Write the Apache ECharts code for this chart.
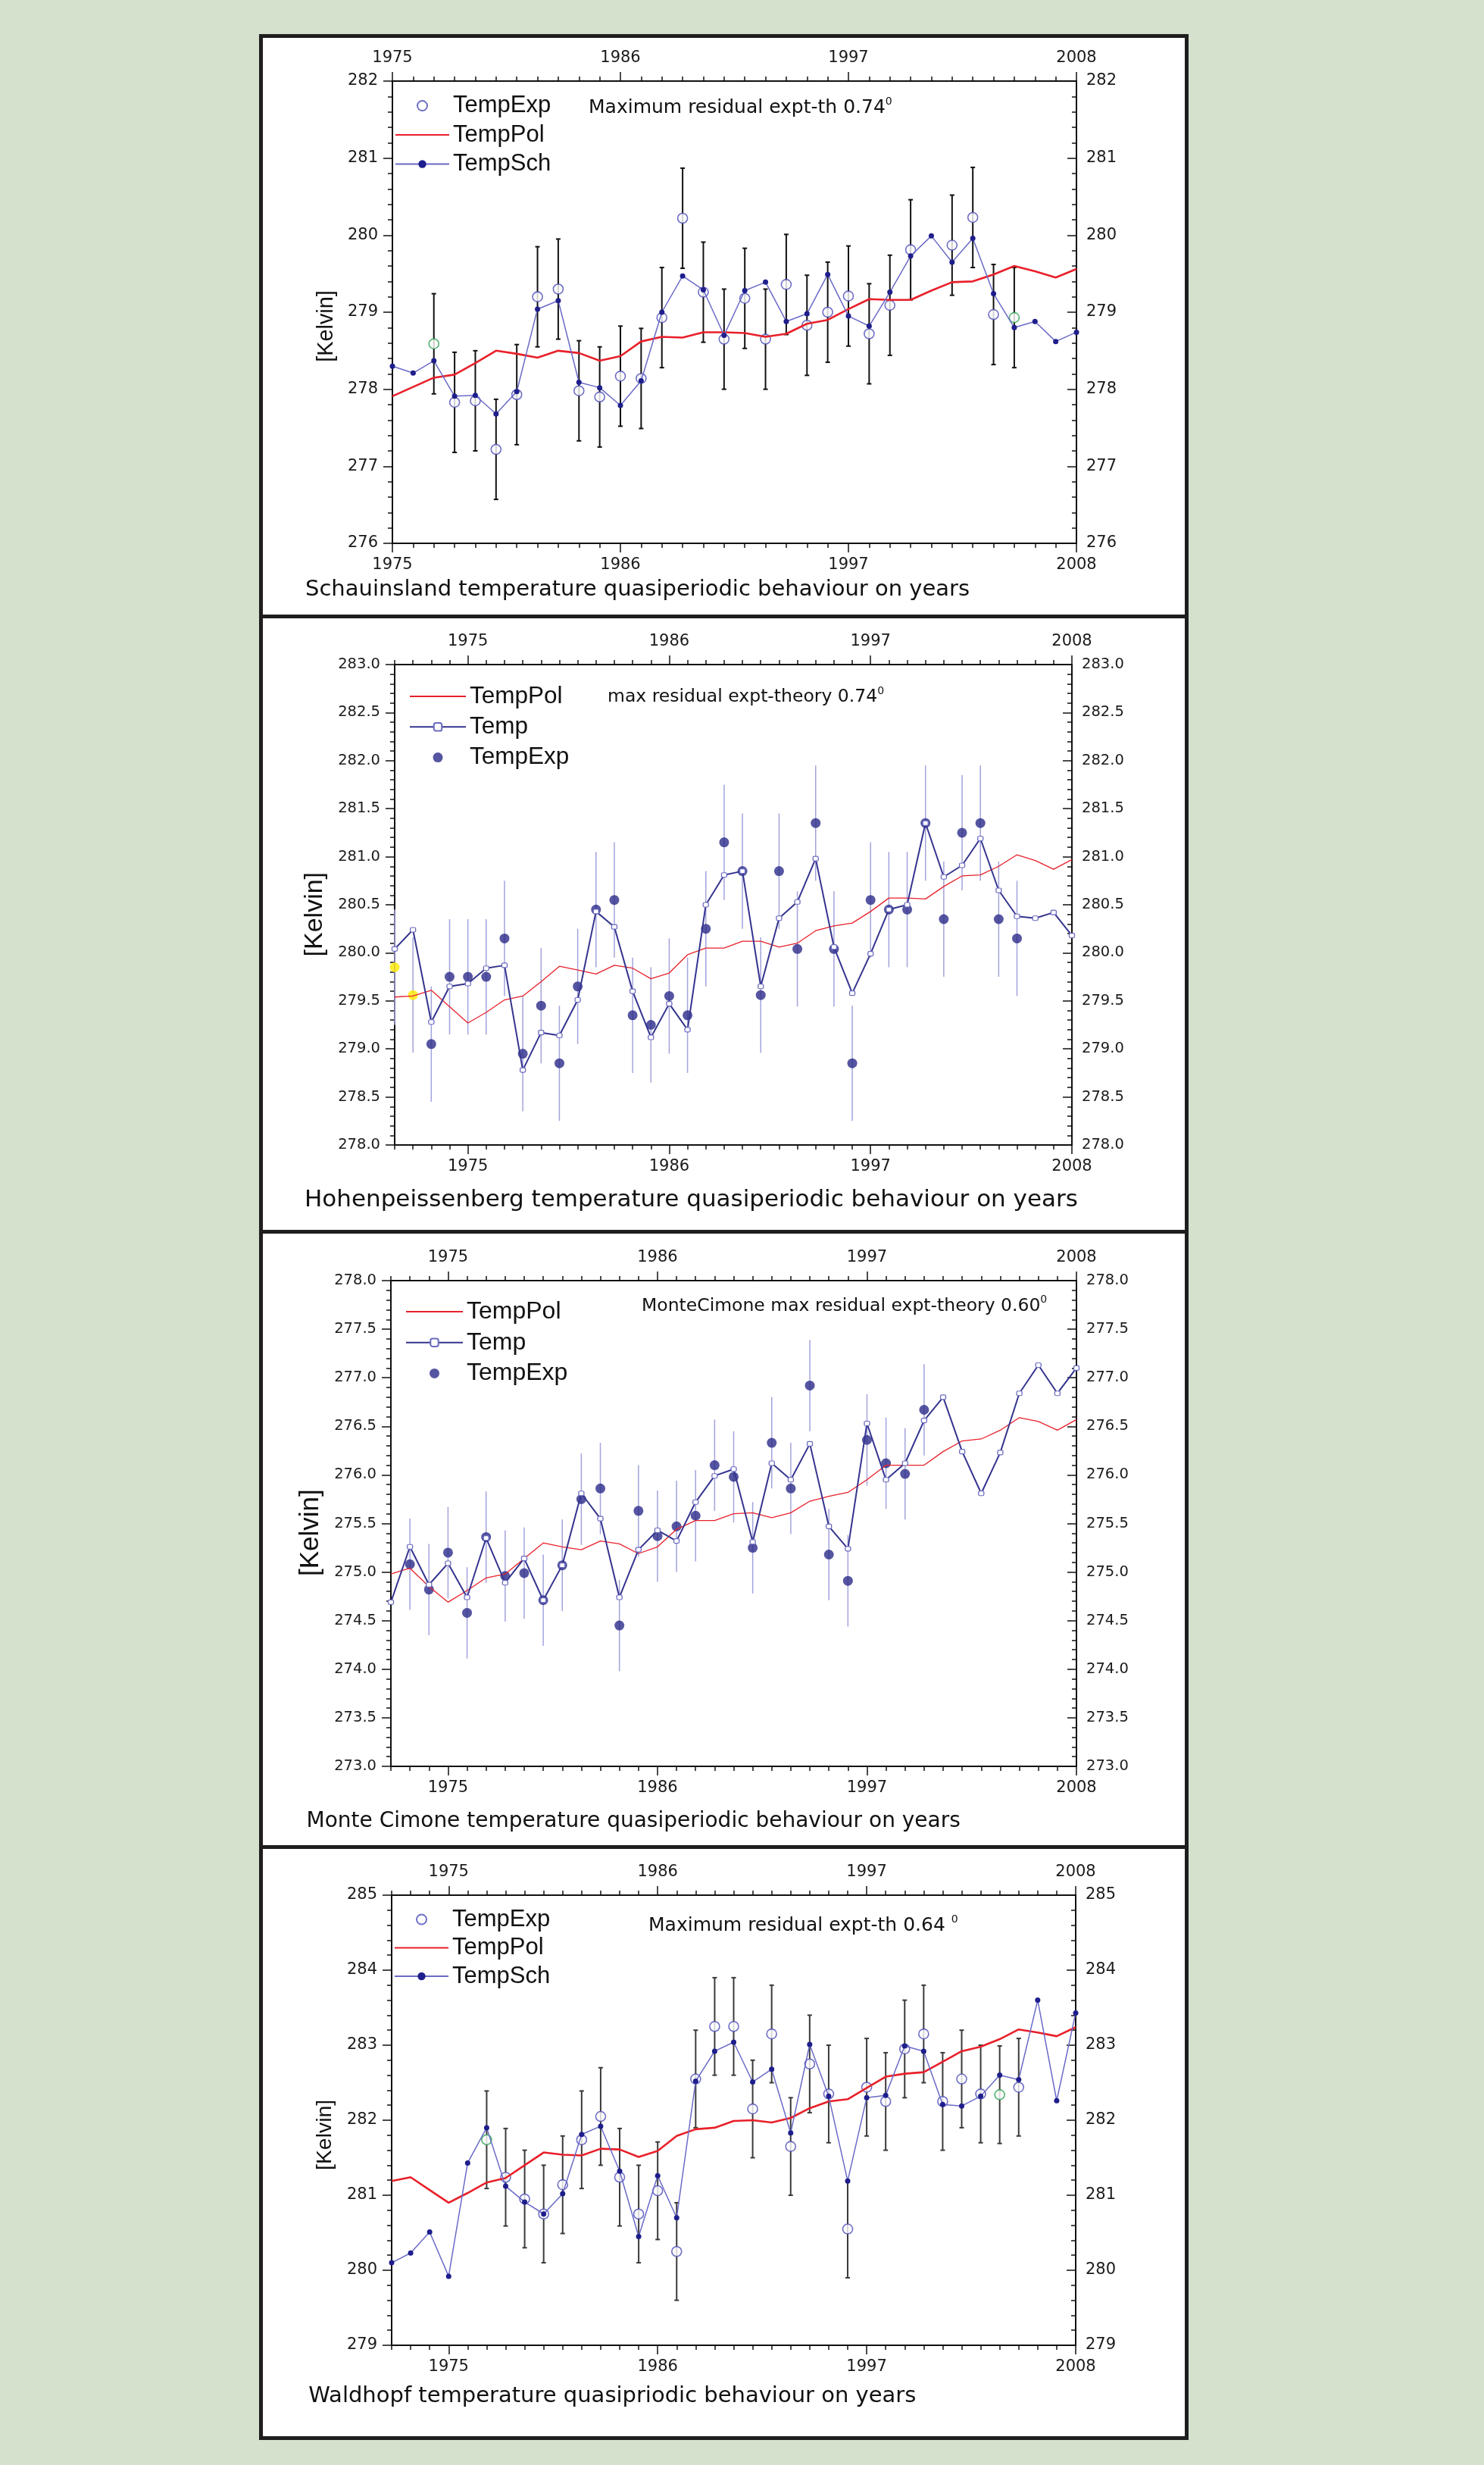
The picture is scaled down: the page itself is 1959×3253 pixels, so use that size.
<!DOCTYPE html>
<html><head><meta charset="utf-8">
<script src="https://cdn.jsdelivr.net/npm/echarts@6/dist/echarts.min.js"></script>
<style>
html,body{margin:0;padding:0;background:#d5e0cd;}
#frame{position:absolute;left:342px;top:45px;width:1227px;height:3175px;border:5px solid #1e1e1e;box-sizing:border-box;background:#fff;}
.sep{position:absolute;left:342px;width:1227px;height:5px;background:#1e1e1e;}
#chart{position:absolute;left:0;top:0;width:1959px;height:3253px;}
</style></head><body>
<div id="frame"></div>
<div class="sep" style="top:811px"></div>
<div class="sep" style="top:1623px"></div>
<div class="sep" style="top:2435px"></div>
<div id="chart"></div>
<script>
// ---------------- DATA ----------------
const MAJOR_YEARS = [1975, 1986, 1997, 2008];
const END_YEAR = 2008;

// Panel 1 – Schauinsland
const SCH_START = 1975;
const SCH_TEMPPOL = [277.91,278.03,278.15,278.19,278.34,278.50,
  278.46,278.41,278.50,278.47,278.37,278.43,278.62,278.68,278.67,278.74,
  278.74,278.73,278.68,278.72,278.85,278.90,279.04,279.17,279.16,279.16,
  279.28,279.39,279.40,279.49,279.60,279.53,279.45,279.56];
const SCH_TEMPSCH = [278.30,278.21,278.37,277.91,277.92,277.68,
  277.97,279.04,279.15,278.09,278.02,277.79,278.11,279.00,279.47,279.29,
  278.70,279.28,279.39,278.88,278.98,279.49,278.95,278.82,279.26,279.73,
  279.99,279.65,279.96,279.24,278.80,278.88,278.62,278.74];
const SCH_EXP_START = 1977;
const SCH_TEMPEXP = [278.59,277.83,277.85,277.22,
  277.93,279.20,279.30,277.98,277.90,278.17,278.14,278.93,280.22,279.26,
  278.65,279.18,278.65,279.36,278.83,279.00,279.21,278.72,279.09,279.81,
  null,279.87,280.23,278.97,278.93];
const SCH_ERR = 0.65;
const SCH_GREEN_YEARS = [1977, 2005];

// Panel 2 – Hohenpeissenberg
const HOH_START = 1971;
const HOH_TEMPPOL = [279.54,279.55,279.61,279.44,279.27,279.38,279.51,279.55,279.70,279.86,
  279.82,279.78,279.87,279.84,279.73,279.79,279.98,280.05,280.05,280.12,
  280.12,280.06,280.10,280.23,280.28,280.31,280.43,280.57,280.57,280.56,
  280.69,280.80,280.81,280.90,281.02,280.96,280.87,280.97];
const HOH_TEMP = [280.04,280.24,279.28,279.65,279.68,279.84,279.87,278.78,279.17,279.14,
  279.51,280.43,280.27,279.60,279.12,279.47,279.20,280.50,280.81,280.85,
  279.65,280.36,280.53,280.98,280.06,279.58,279.99,280.45,280.50,281.35,
  280.79,280.91,281.19,280.65,280.38,280.36,280.42,280.18];
const HOH_EXP_START = 1971;
const HOH_TEMPEXP = [279.85,279.56,279.05,279.75,279.75,279.75,280.15,278.95,279.45,278.85,
  279.65,280.45,280.55,279.35,279.25,279.55,279.35,280.25,281.15,280.85,
  279.56,280.85,280.04,281.35,280.04,278.85,280.55,280.45,280.45,281.35,
  280.35,281.25,281.35,280.35,280.15];
const HOH_ERR = 0.6;
const HOH_YELLOW_YEARS = [1971, 1972];

// Panel 3 – Monte Cimone
const MC_START = 1972;
const MC_TEMPPOL = [274.98,275.04,274.85,274.69,274.81,274.94,274.98,275.14,275.30,
  275.26,275.23,275.32,275.29,275.19,275.26,275.44,275.53,275.53,275.60,
  275.61,275.56,275.61,275.73,275.78,275.82,275.95,276.10,276.10,276.10,
  276.24,276.35,276.37,276.46,276.59,276.55,276.46,276.57];
const MC_TEMP = [274.69,275.26,274.87,275.09,274.74,275.35,274.89,275.14,274.71,
  275.07,275.81,275.55,274.74,275.23,275.43,275.32,275.72,275.99,276.06,
  275.31,276.12,275.95,276.32,275.47,275.24,276.53,275.95,276.12,276.56,
  276.80,276.24,275.81,276.23,276.84,277.13,276.84,277.10];
const MC_EXP_START = 1973;
const MC_TEMPEXP = [275.08,274.82,275.20,274.58,275.36,274.96,274.99,274.71,
  275.07,275.75,275.86,274.45,275.63,275.37,275.47,275.58,276.10,275.98,
  275.25,276.33,275.86,276.92,275.18,274.91,276.36,276.12,276.01,276.67];
const MC_ERR = 0.47;

// Panel 4 – Waldhopf
const WH_START = 1972;
const WH_TEMPPOL = [281.19,281.24,281.07,280.90,281.03,281.17,281.23,281.40,281.57,
  281.54,281.53,281.62,281.61,281.51,281.59,281.79,281.88,281.90,281.99,
  282.00,281.97,282.03,282.16,282.25,282.28,282.43,282.58,282.62,282.64,
  282.78,282.92,282.98,283.08,283.21,283.17,283.12,283.24];
const WH_TEMPSCH = [280.10,280.23,280.51,279.92,281.43,281.90,281.12,280.91,280.75,
  281.02,281.81,281.92,281.32,280.45,281.26,280.70,282.52,282.92,283.04,
  282.51,282.68,281.83,283.01,282.32,281.19,282.30,282.33,282.99,282.92,
  282.21,282.19,282.32,282.60,282.54,283.60,282.26,283.43];
const WH_EXP_START = 1977;
const WH_TEMPEXP = [281.74,281.24,280.95,280.75,
  281.14,281.74,282.05,281.24,280.75,281.06,280.25,282.55,283.25,283.25,
  282.15,283.15,281.65,282.75,282.35,280.55,282.44,282.25,282.95,283.15,
  282.25,282.55,282.35,282.34,282.44];
const WH_ERR = 0.65;
const WH_GREEN_YEARS = [1977, 2004];

// ---------------- BUILD ----------------
const FONT = 'DejaVu Sans';
const LFONT = 'Liberation Sans';
const AX = '#111';
const RED = '#e8202a';

const option = {animation:false, textStyle:{fontFamily:FONT},
  grid:[], xAxis:[], yAxis:[], series:[], legend:[], graphic:[]};

function pairs(start, vals){ const out=[]; vals.forEach((v,i)=>{ if(v!=null) out.push([start+i, v]); }); return out; }

function addAxes(cfg){
  const g = option.grid.length;
  option.grid.push({left:cfg.grid[0], top:cfg.grid[1], width:cfg.grid[2], height:cfg.grid[3]});
  const xi = option.xAxis.length;
  const tickLS = {color:AX, width:1.5};
  const lbl = {fontSize:21, color:'#1a1a1a', fontFamily:FONT};
  const base = {type:'value', gridIndex:g, min:cfg.xMin, max:END_YEAR, splitLine:{show:false},
    axisLine:{show:true, onZero:false, lineStyle:{color:AX, width:2}}};
  ['bottom','top'].forEach(pos=>{
    option.xAxis.push(Object.assign({}, base, {position:pos, interval:1,
      axisTick:{show:true, length:6, lineStyle:tickLS}, axisLabel:{show:false}}));
    option.xAxis.push(Object.assign({}, base, {position:pos, axisLine:{show:false},
      axisTick:{show:true, customValues:MAJOR_YEARS, length:12, lineStyle:tickLS},
      axisLabel:Object.assign({customValues:MAJOR_YEARS, margin: pos==='bottom'?18:20,
        formatter: v => String(Math.round(v))}, lbl)}));
  });
  const yi = option.yAxis.length;
  const ybase = {type:'value', gridIndex:g, min:cfg.yMin, max:cfg.yMax, interval:cfg.yInt,
    splitLine:{show:false}, minorSplitLine:{show:false},
    axisLine:{show:true, onZero:false, lineStyle:{color:AX, width:2}},
    minorTick:{show:true, splitNumber:5, length:6, lineStyle:tickLS}};
  const fmt = v => v.toFixed(cfg.yDec);
  const ylbl = Object.assign({}, lbl, {fontSize:cfg.yFont, formatter:fmt});
  option.yAxis.push(Object.assign({}, ybase, {position:'left',
    axisTick:{show:true, length:12, lineStyle:tickLS}, axisLabel:Object.assign({margin:19}, ylbl)}));
  option.yAxis.push(Object.assign({}, ybase, {position:'right',
    axisTick:{show:true, inside:true, length:12, lineStyle:tickLS}, axisLabel:Object.assign({margin:13}, ylbl)}));
  return {xi, yi};
}

function errSeries(xi, yi, start, vals, err, color, width, cap){
  const data=[]; vals.forEach((v,i)=>{ if(v!=null) data.push([start+i, v-err, v+err]); });
  return {type:'custom', xAxisIndex:xi, yAxisIndex:yi, data, encode:{x:0, y:[1,2]}, z:1, silent:true,
    renderItem:(params, api)=>{
      const x = api.value(0);
      const lo = api.coord([x, api.value(1)]), hi = api.coord([x, api.value(2)]);
      const st = {stroke:color, lineWidth:width};
      const ch = [{type:'line', shape:{x1:lo[0],y1:lo[1],x2:hi[0],y2:hi[1]}, style:st}];
      if (cap){
        ch.push({type:'line', shape:{x1:hi[0]-cap,y1:hi[1],x2:hi[0]+cap,y2:hi[1]}, style:st});
        ch.push({type:'line', shape:{x1:lo[0]-cap,y1:lo[1],x2:lo[0]+cap,y2:lo[1]}, style:st});
      }
      return {type:'group', children:ch};
    }};
}

function polSeries(name, xi, yi, start, vals, width){
  return {type:'line', name, xAxisIndex:xi, yAxisIndex:yi, data:pairs(start, vals), symbol:'none',
    lineStyle:{color:RED, width}, itemStyle:{color:RED}, z:3};
}

// legend entry for a plain line (no marker drawn in the icon)
function plainLine(name){ return {name, itemStyle:{opacity:0, color:'rgba(0,0,0,0)', borderWidth:0}}; }

function legendCfg(left, top, itemWidth, gap, names, fontSize){
  return {left, top, orient:'vertical', padding:0, itemWidth, itemHeight:13, itemGap:gap,
    selectedMode:false, data:names, formatter:n=>n.split('#')[0],
    textStyle:{fontFamily:LFONT, fontSize, color:'#111', lineHeight:32}};
}

function txt(x, y, text, size, family){
  return {type:'text', x, y, z:10, style:{text, font: size+'px "'+(family||FONT)+'"', fill:'#111',
    align:'left', verticalAlign:'middle', textAlign:'left', textVerticalAlign:'middle'}};
}
function annot(x, y, main, sup, size){
  return {type:'text', x, y, z:10, style:{text:'{m|'+main+'}{s|'+sup+'}',
    align:'left', verticalAlign:'middle', textAlign:'left', textVerticalAlign:'middle',
    rich:{m:{fontSize:size, fontFamily:FONT, fill:'#111', lineHeight:30},
          s:{fontSize:14, fontFamily:FONT, fill:'#111', lineHeight:14, verticalAlign:'top'}}}};
}
function kelvin(x, y, size){
  return {type:'text', x, y, rotation:Math.PI/2, z:10, style:{text:'[Kelvin]', font:size+'px "'+LFONT+'"',
    fill:'#111', align:'center', verticalAlign:'middle', textAlign:'center', textVerticalAlign:'middle'}};
}

// ----- Panel 1 -----
(function(){
  const {xi, yi} = addAxes({grid:[518,107,903,610], xMin:SCH_START, yMin:276, yMax:282, yInt:1, yDec:0, yFont:21});
  option.series.push(errSeries(xi, yi, SCH_EXP_START, SCH_TEMPEXP, SCH_ERR, '#111', 2, 3));
  option.series.push({type:'scatter', name:'TempExp#1', xAxisIndex:xi, yAxisIndex:yi, z:2,
    data: pairs(SCH_EXP_START, SCH_TEMPEXP).map(p => SCH_GREEN_YEARS.includes(p[0]) ? {value:p, itemStyle:{borderColor:'#2aa050'}} : p),
    symbol:'circle', symbolSize:13, itemStyle:{color:'#fff', borderColor:'#4a4ab8', borderWidth:1.6}});
  option.series.push(polSeries('TempPol#1', xi, yi, SCH_START, SCH_TEMPPOL, 2.6));
  option.series.push({type:'line', name:'TempSch#1', xAxisIndex:xi, yAxisIndex:yi, z:4,
    data:pairs(SCH_START, SCH_TEMPSCH), symbol:'circle', symbolSize:7,
    lineStyle:{color:'#6a6ac8', width:1.5}, itemStyle:{color:'#1e1e8c'}});
  option.legend.push(legendCfg(521, 123.5, 71, 6.5, ['TempExp#1', plainLine('TempPol#1'), 'TempSch#1'], 31));
  option.graphic.push(annot(777, 142, 'Maximum residual expt-th 0.74', '0', 25));
  option.graphic.push(txt(403, 778, 'Schauinsland temperature quasiperiodic behaviour on years', 29));
  option.graphic.push(kelvin(430.6, 430.5, 28.8));
})();

// ----- Panel 2 -----
(function(){
  const {xi, yi} = addAxes({grid:[521,877,894,634], xMin:HOH_START, yMin:278, yMax:283, yInt:0.5, yDec:1, yFont:19.5});
  option.series.push(errSeries(xi, yi, HOH_EXP_START, HOH_TEMPEXP, HOH_ERR, '#a3a3dc', 1.5, 0));
  option.series.push({type:'scatter', name:'TempExp#2', xAxisIndex:xi, yAxisIndex:yi, z:2,
    data: pairs(HOH_EXP_START, HOH_TEMPEXP).map(p => HOH_YELLOW_YEARS.includes(p[0]) ? {value:p, itemStyle:{color:'#ffe800'}} : p),
    symbol:'circle', symbolSize:13, itemStyle:{color:'#2a2a8a'}});
  option.series.push(polSeries('TempPol#2', xi, yi, HOH_START, HOH_TEMPPOL, 1.3));
  option.series.push({type:'line', name:'Temp#2', xAxisIndex:xi, yAxisIndex:yi, z:4,
    data:pairs(HOH_START, HOH_TEMP), symbol:'roundRect', symbolSize:[7,6],
    lineStyle:{color:'#34348f', width:2}, itemStyle:{color:'#fff', borderColor:'#6a6ac0', borderWidth:1.2}});
  option.legend.push(legendCfg(540, 903, 74, 8.3, [plainLine('TempPol#2'),'Temp#2','TempExp#2'], 31.5));
  option.graphic.push(annot(802, 920, 'max residual expt-theory 0.74', '0', 23.5));
  option.graphic.push(txt(402, 1584, 'Hohenpeissenberg temperature quasiperiodic behaviour on years', 31));
  option.graphic.push(kelvin(415.5, 1206.7, 34));
})();

// ----- Panel 3 -----
(function(){
  const {xi, yi} = addAxes({grid:[516,1690,905,641], xMin:MC_START, yMin:273, yMax:278, yInt:0.5, yDec:1, yFont:19.5});
  option.series.push(errSeries(xi, yi, MC_EXP_START, MC_TEMPEXP, MC_ERR, '#a3a3dc', 1.5, 0));
  option.series.push({type:'scatter', name:'TempExp#3', xAxisIndex:xi, yAxisIndex:yi, z:2,
    data: pairs(MC_EXP_START, MC_TEMPEXP), symbol:'circle', symbolSize:13, itemStyle:{color:'#2a2a8a'}});
  option.series.push(polSeries('TempPol#3', xi, yi, MC_START, MC_TEMPPOL, 1.3));
  option.series.push({type:'line', name:'Temp#3', xAxisIndex:xi, yAxisIndex:yi, z:4,
    data:pairs(MC_START, MC_TEMP), symbol:'roundRect', symbolSize:[7,6],
    lineStyle:{color:'#34348f', width:2}, itemStyle:{color:'#fff', borderColor:'#6a6ac0', borderWidth:1.2}});
  option.legend.push(legendCfg(535, 1715, 75, 8.7, [plainLine('TempPol#3'),'Temp#3','TempExp#3'], 32));
  option.graphic.push(annot(847, 1723.5, 'MonteCimone max residual expt-theory 0.60', '0', 23.5));
  option.graphic.push(txt(404.5, 2403.5, 'Monte Cimone temperature quasiperiodic behaviour on years', 28));
  option.graphic.push(kelvin(410.2, 2022.7, 35));
})();

// ----- Panel 4 -----
(function(){
  const {xi, yi} = addAxes({grid:[517,2501,903,594], xMin:WH_START, yMin:279, yMax:285, yInt:1, yDec:0, yFont:21});
  option.series.push(errSeries(xi, yi, WH_EXP_START, WH_TEMPEXP, WH_ERR, '#3a3a3a', 2, 3));
  option.series.push({type:'scatter', name:'TempExp#4', xAxisIndex:xi, yAxisIndex:yi, z:2,
    data: pairs(WH_EXP_START, WH_TEMPEXP).map(p => WH_GREEN_YEARS.includes(p[0]) ? {value:p, itemStyle:{borderColor:'#2aa050'}} : p),
    symbol:'circle', symbolSize:13, itemStyle:{color:'#fff', borderColor:'#4a4ab8', borderWidth:1.6}});
  option.series.push(polSeries('TempPol#4', xi, yi, WH_START, WH_TEMPPOL, 2.6));
  option.series.push({type:'line', name:'TempSch#4', xAxisIndex:xi, yAxisIndex:yi, z:4,
    data:pairs(WH_START, WH_TEMPSCH), symbol:'circle', symbolSize:7,
    lineStyle:{color:'#6a6ac8', width:1.5}, itemStyle:{color:'#1e1e8c'}});
  option.legend.push(legendCfg(520, 2517, 71, 5.5, ['TempExp#4', plainLine('TempPol#4'), 'TempSch#4'], 31));
  option.graphic.push(annot(856, 2541, 'Maximum residual expt-th 0.64 ', '0', 25));
  option.graphic.push(txt(407.3, 3162.4, 'Waldhopf temperature quasipriodic behaviour on years', 29));
  option.graphic.push(kelvin(429, 2817.4, 28.4));
})();

const chart = echarts.init(document.getElementById('chart'), null, {renderer:'canvas'});
chart.setOption(option);
</script>
</body></html>
